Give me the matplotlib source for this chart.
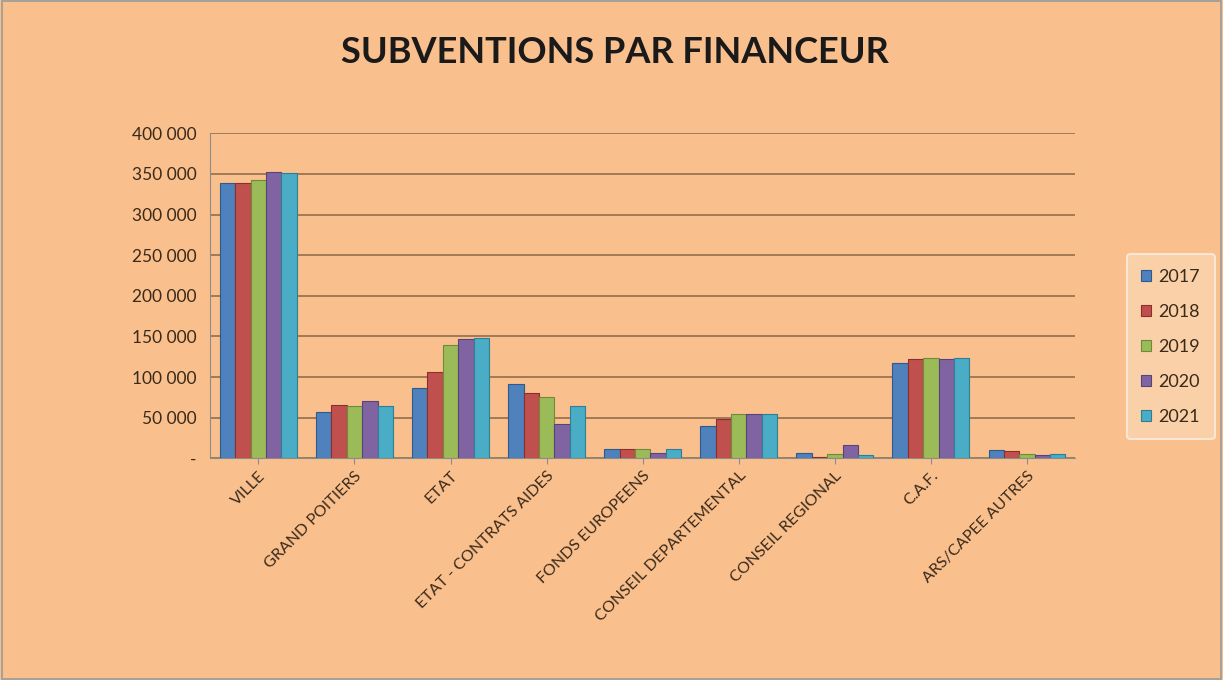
import matplotlib
matplotlib.use("Agg")
import matplotlib.pyplot as plt
import numpy as np
from matplotlib.patches import Rectangle
from matplotlib.ticker import FuncFormatter

categories = ["VILLE", "GRAND POITIERS", "ETAT", "ETAT - CONTRATS AIDES",
              "FONDS EUROPEENS", "CONSEIL DEPARTEMENTAL", "CONSEIL REGIONAL",
              "C.A.F.", "ARS/CAPEE AUTRES"]
years = ["2017", "2018", "2019", "2020", "2021"]
v2017 = [339000, 57000, 86000, 92000, 11000, 40000, 6000, 117000, 10000]
v2018 = [339000, 66000, 106000, 80000, 11000, 49000, 2000, 122000, 9000]
v2019 = [343000, 65000, 139000, 76000, 11000, 55000, 5000, 123000, 5000]
v2020 = [352000, 70000, 147000, 42000, 6000, 55000, 17000, 122000, 4000]
v2021 = [351000, 65000, 148000, 65000, 11000, 55000, 4000, 123000, 5000]
series = [v2017, v2018, v2019, v2020, v2021]
colors = ["#4F81BD", "#C0504D", "#9BBB59", "#8064A2", "#4BACC6"]
edge_colors = ["#2E5A8C", "#8C2F2C", "#6E8B3A", "#56437A", "#2D7F96"]
yticks = [0, 50000, 100000, 150000, 200000, 250000, 300000, 350000, 400000]

BG = "#F9BF8D"
plt.rcParams['font.family'] = ['Lato', 'DejaVu Sans']

fig = plt.figure(figsize=(12.23, 6.80), dpi=100, facecolor=BG)
fig.patches.append(Rectangle((0.002, 0.002), 0.996, 0.996, transform=fig.transFigure,
                             fill=False, edgecolor="#9A9A9A", linewidth=1.2))
ax = fig.add_axes([0.172, 0.326, 0.707, 0.478])
ax.set_facecolor(BG)

x = np.arange(len(categories))
n = len(series)
group_w = 0.8
bw = group_w / n
for i, (vals, c, ec) in enumerate(zip(series, colors, edge_colors)):
    ax.bar(x - group_w / 2 + bw * (i + 0.5), vals, width=bw, color=c,
           edgecolor=ec, linewidth=0.8, label=years[i], zorder=3)

ax.set_xlim(-0.5, len(categories) - 0.5)
ax.set_ylim(0, 400000)
ax.set_yticks(yticks)

def fmt(v, pos):
    if v == 0:
        return "-"
    return f"{int(v):,}".replace(",", " ")

ax.yaxis.set_major_formatter(FuncFormatter(fmt))
ax.grid(axis="y", color="#9B7452", linewidth=1.3, zorder=0)
ax.set_axisbelow(True)
for s in ["top", "right"]:
    ax.spines[s].set_visible(False)
ax.spines["left"].set_color("#8C8C8C")
ax.spines["bottom"].set_color("#8C8C8C")
ax.tick_params(axis="y", length=0, pad=10, labelsize=12.5, labelcolor="#3A2A1A")
ax.tick_params(axis="x", length=4, color="#8C8C8C", labelsize=11.5, labelcolor="#3A2A1A")
ax.set_xticks(x)
ax.set_xticklabels(categories, rotation=45, ha="right", rotation_mode="anchor")

fig.text(0.503, 0.923, "SUBVENTIONS PAR FINANCEUR", ha="center", va="center",
         fontsize=26, fontweight="bold", color="#1A1A1A")

leg = fig.legend(loc="center left", bbox_to_anchor=(0.914, 0.49), frameon=True,
                 fontsize=13, handlelength=0.55, handleheight=0.55, handletextpad=0.4,
                 labelspacing=1.05, borderpad=0.8)
leg.get_frame().set_facecolor("#FAD0A8")
leg.get_frame().set_edgecolor("#FBE6D4")
leg.get_frame().set_linewidth(1.5)
leg.get_frame().set_alpha(1)
for t in leg.get_texts():
    t.set_color("#3A2A1A")

fig.savefig("out.png", dpi=100, facecolor=BG)
